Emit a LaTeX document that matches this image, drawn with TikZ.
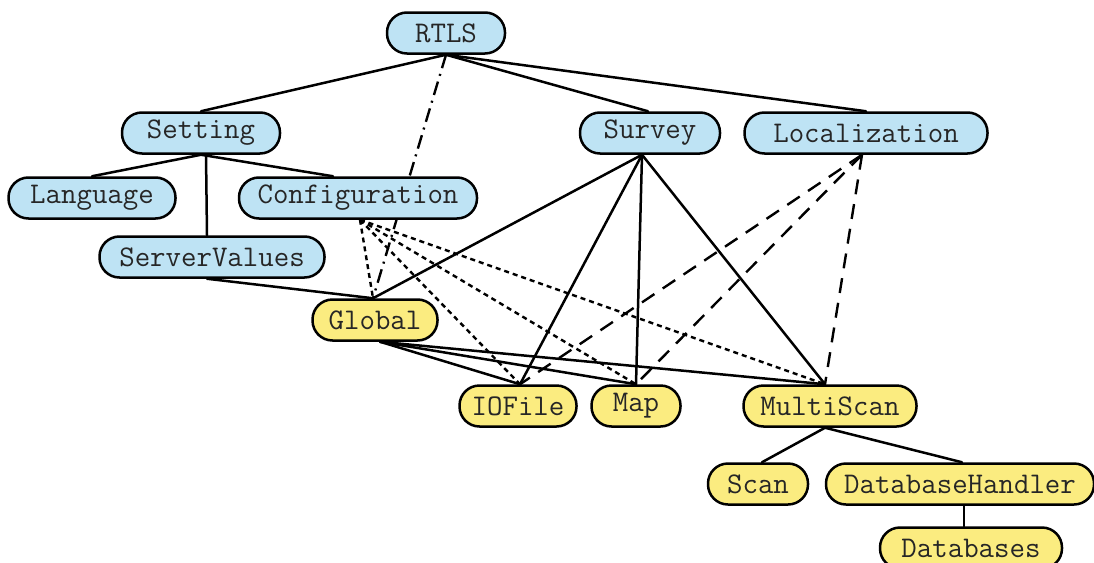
\documentclass[tikz,border=0pt]{standalone}
\usepackage{fontspec}
\usetikzlibrary{calc}
\pgfdeclarelayer{bg}
\pgfsetlayers{bg,main}
\definecolor{boxblue}{RGB}{190,227,244}
\definecolor{boxyellow}{RGB}{251,236,128}
\tikzset{
  box/.style={draw=black, line width=2.5pt, rectangle, rounded corners=20pt,
    minimum height=41pt, inner sep=1pt, font=\ttfamily\fontsize{30}{32}\selectfont, text=black!85},
  bluebox/.style={box, fill=boxblue},
  yellowbox/.style={box, fill=boxyellow},
  link/.style={line width=2.5pt, line cap=round},
  dotlink/.style={line width=2.4pt, dash pattern=on 5pt off 4pt},
  dashlink/.style={line width=2.4pt, dash pattern=on 15pt off 10pt},
  dashdotlink/.style={line width=2.4pt, dash pattern=on 14pt off 6pt on 2pt off 6pt}
}
\begin{document}
\begin{tikzpicture}[x=1pt,y=-1pt]
\useasboundingbox (0,0) rectangle (1094,562);
% nodes
\node[bluebox, minimum width=118pt] (rtls) at (446,33) {RTLS};
\node[bluebox, minimum width=158pt] (set) at (201,133) {Setting};
\node[bluebox, minimum width=140pt] (sur) at (650,133) {Survey};
\node[bluebox, minimum width=243pt] (loc) at (866,133) {Localization};
\node[bluebox, minimum width=167pt] (lang) at (92,198) {Language};
\node[bluebox, minimum width=238pt] (conf) at (358,198) {Configuration};
\node[bluebox, minimum width=225pt] (sv) at (212,257) {ServerValues};
\node[yellowbox, minimum width=125pt] (glob) at (375,320) {Global};
\node[yellowbox, minimum width=117pt] (iof) at (518,406) {IOFile};
\node[yellowbox, minimum width=89pt] (map) at (636,406) {Map};
\node[yellowbox, minimum width=173pt] (ms) at (830,406) {MultiScan};
\node[yellowbox, minimum width=100pt] (scan) at (758,484) {Scan};
\node[yellowbox, minimum width=268pt] (dbh) at (960,484) {DatabaseHandler};
\node[yellowbox, minimum width=182pt] (db) at (971,548) {Databases};
% edges
\begin{pgfonlayer}{bg}
\coordinate (rtB) at (rtls.south);
\coordinate (suB) at ($(sur.south)+(-8,0)$);
\coordinate (loB) at ($(loc.south)+(-4,0)$);
\coordinate (coB) at ($(conf.south)+(2,0)$);
\coordinate (glT) at ($(glob.north)+(-2,0)$);
\coordinate (glB) at ($(glob.south)+(5,0)$);
\coordinate (ioT) at ($(iof.north)+(2,0)$);
\coordinate (maT) at (map.north);
\coordinate (msT) at ($(ms.north)+(-5,0)$);
% solid
\draw[link] (rtB) -- (set.north);
\draw[link] (rtB) -- ($(sur.north)+(-2,0)$);
\draw[link] (rtB) -- (loc.north);
\draw[link] (set.south) -- (lang.north);
\draw[link] ($(set.south)+(5,0)$) -- ($(sv.north)+(-5,0)$);
\draw[link] (set.south) -- ($(conf.north)+(-25,0)$);
\draw[link] ($(sv.south)+(-5,0)$) -- (glT);
\draw[link] (suB) -- (glT);
\draw[link] (suB) -- (ioT);
\draw[link] (suB) -- (maT);
\draw[link] (suB) -- (msT);
\draw[link] (glB) -- (ioT);
\draw[link] (glB) -- (maT);
\draw[link] (glB) -- (msT);
\draw[link] ($(ms.south)+(-5,0)$) -- ($(scan.north)+(4,0)$);
\draw[link] ($(ms.south)+(-5,0)$) -- ($(dbh.north)+(2,0)$);
\draw[link] ($(dbh.south)+(4,0)$) -- ($(db.north)+(-7,0)$);
% dash-dot
\draw[dashdotlink] (rtB) -- (glT);
% dotted from Configuration
\draw[dotlink] (coB) -- (glT);
\draw[dotlink] (coB) -- (ioT);
\draw[dotlink] (coB) -- (maT);
\draw[dotlink] (coB) -- (msT);
% dashed from Localization
\draw[dashlink] (loB) -- (ioT);
\draw[dashlink] (loB) -- (maT);
\draw[dashlink] (loB) -- (msT);
\end{pgfonlayer}
\end{tikzpicture}
\end{document}
